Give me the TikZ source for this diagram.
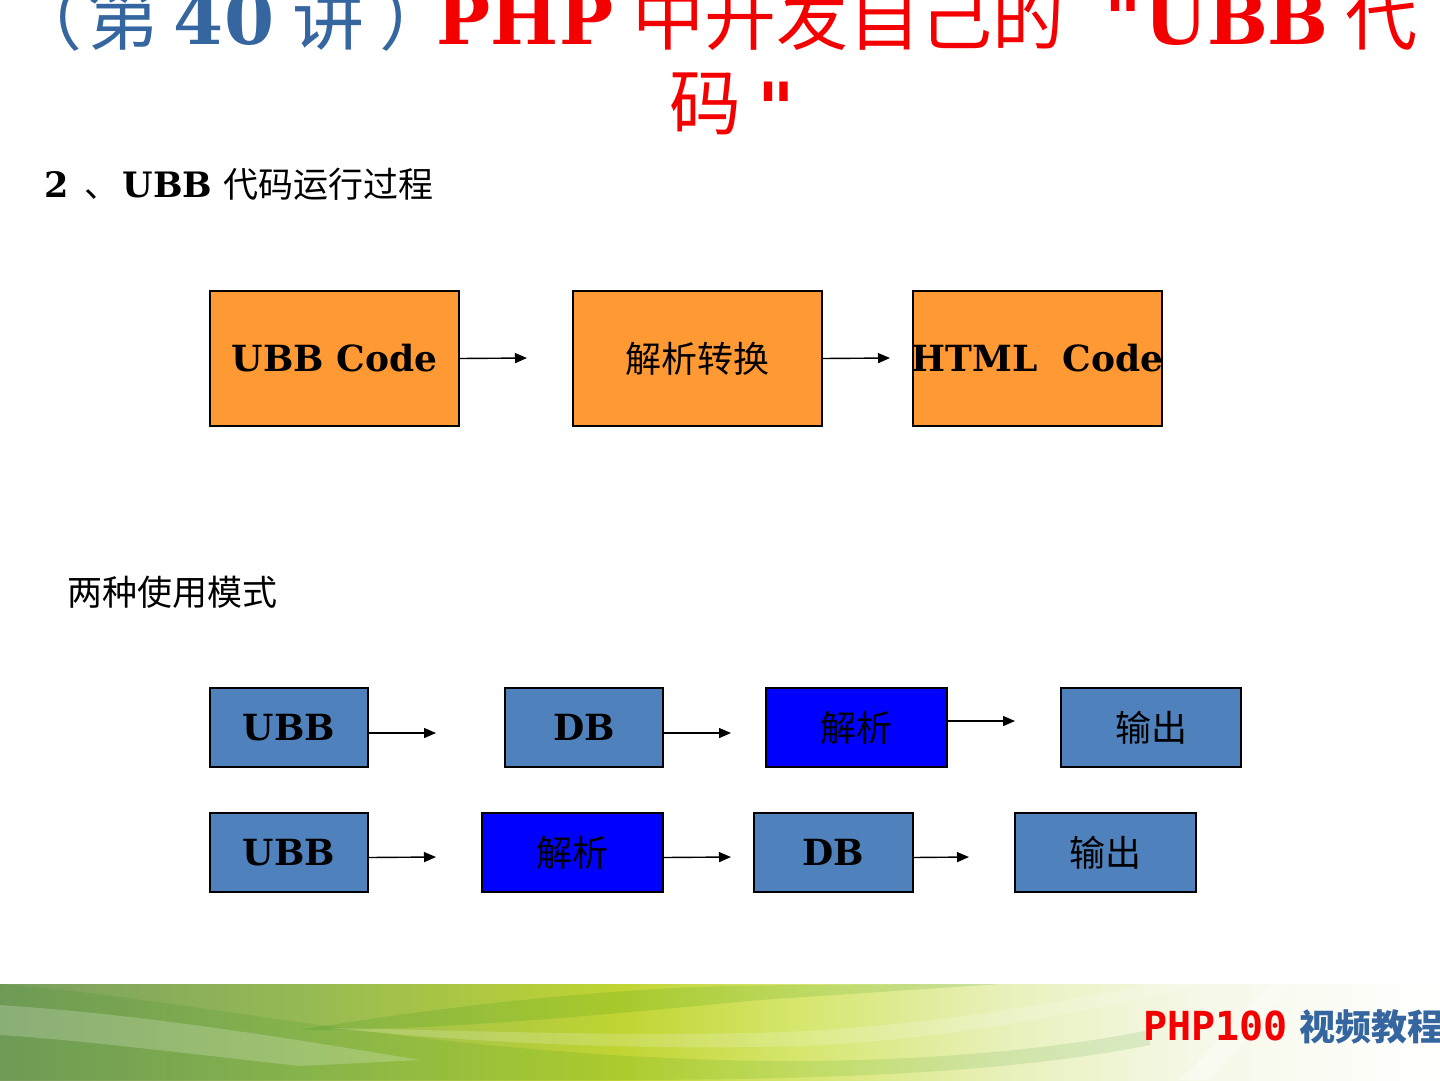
\documentclass[tikz,border=0pt]{standalone}
\usepackage{fontspec}
\setmainfont{DejaVu Serif}
\newfontfamily\qfont[Ligatures=TeXOff]{DejaVu Serif}
\newfontfamily\cjk{Noto Sans CJK SC}
\newfontfamily\monob{DejaVu Sans Mono}
\usetikzlibrary{arrows.meta}
\definecolor{orangebox}{RGB}{255,153,51}
\definecolor{steel}{RGB}{79,129,189}
\definecolor{pureblue}{RGB}{0,0,255}
\definecolor{titleblue}{RGB}{54,102,160}
\definecolor{titlered}{RGB}{245,0,0}
\definecolor{g1}{RGB}{122,158,95}
\definecolor{g2}{RGB}{150,185,85}
\definecolor{g3}{RGB}{192,212,50}
\definecolor{g4}{RGB}{215,230,110}
\definecolor{g5}{RGB}{232,240,185}
\definecolor{g6}{RGB}{246,248,232}
\tikzset{
  boxbase/.style={draw=black,line width=1.8pt,inner sep=0pt,outer sep=0pt,anchor=north west,text=black},
  obox/.style={boxbase,fill=orangebox,minimum width=249pt,minimum height=135pt},
  sbox/.style={boxbase,fill=steel,minimum height=79pt},
  bluebox/.style={boxbase,fill=pureblue,minimum height=79pt},
  conn/.style={line width=1.4pt,-{Triangle[length=12pt,width=10pt]}},
  latb/.style={font=\bfseries\fontsize{36}{43}\selectfont},
  cjkt/.style={font=\cjk\fontsize{36}{43}\selectfont},
  tpiece/.style={inner sep=0pt,outer sep=0pt,anchor=base},
  tblue/.style={tpiece,text=titleblue},
  tred/.style={tpiece,text=titlered},
  tcjk/.style={font=\cjk\fontsize{72}{86}\selectfont},
  tlat/.style={font=\bfseries\fontsize{72}{86}\selectfont},
  tquote/.style={font=\qfont\bfseries\fontsize{72}{86}\selectfont},
}
\begin{document}
\begin{tikzpicture}[x=1pt,y=-1pt]
\useasboundingbox (0,0) rectangle (1440,1080);
\fill[white] (0,0) rectangle (1440,1080);
% bottom band
\fill[left color=g1,right color=g2] (0,984) rectangle (300,1080);
\fill[left color=g2,right color=g3] (299.5,984) rectangle (620,1080);
\fill[left color=g3,right color=g4] (619.5,984) rectangle (800,1080);
\fill[left color=g4,right color=g5] (799.5,984) rectangle (1000,1080);
\fill[left color=g5,right color=g6] (999.5,984) rectangle (1200,1080);
\fill[left color=g6,right color=white] (1199.5,984) rectangle (1440,1080);
% swooshes
\fill[black!50!green,opacity=0.10] (0,984) .. controls (200,1000) and (400,1050) .. (720,1060) .. controls (900,1065) and (1050,1050) .. (1150,1030) -- (1150,1045) .. controls (1000,1075) and (800,1080) .. (600,1080) -- (0,1080) -- cycle;
\fill[white,opacity=0.20] (0,1005) .. controls (150,1015) and (300,1040) .. (420,1060) -- (300,1066) .. controls (200,1055) and (80,1040) .. (0,1035) -- cycle;
\fill[black!50!green,opacity=0.12] (300,1030) .. controls (450,1005) and (600,990) .. (720,986) .. controls (850,984) and (950,984) .. (1000,984) -- (760,1000) .. controls (600,1015) and (450,1030) .. (300,1030) -- cycle;
\fill[white,opacity=0.18] (330,1028) .. controls (500,1045) and (650,1050) .. (800,1046) .. controls (950,1040) and (1100,1010) .. (1200,984) -- (1150,984) .. controls (1050,1005) and (900,1030) .. (750,1033) .. controls (600,1036) and (450,1030) .. (330,1028) -- cycle;
\fill[white,opacity=0.35] (1180,1080) .. controls (1220,1040) and (1250,1005) .. (1270,984) -- (1290,984) .. controls (1270,1010) and (1240,1045) .. (1210,1080) -- cycle;

% title line 1
\node[tblue,tcjk,anchor=base west] (tlp) at (10,44) {（};
\node[tblue,tcjk] (tdi) at (123.5,44) {第};
\node[tblue,tlat] (tforty) at (224,44) {40};
\node[tblue,tcjk] (tjiang) at (328,44) {讲};
\node[tblue,tcjk,anchor=base west] (trp) at (379,44) {）};
\node[tred,tlat] (tphp) at (525,44) {PHP};
\node[tred,tcjk] (tmid) at (848,44) {中开发自己的};
\node[tred,tquote] (tq1) at (1123.5,44) {"};
\node[tred,tlat] (tubb) at (1236.5,44) {UBB};
\node[tred,tcjk] (tdai) at (1381,44) {代};
% title line 2
\node[tred,tcjk] (tma) at (705,129) {码};
\node[tred,tquote] (tq2) at (776,134) {"};

% headings
\node[anchor=base west,inner sep=0pt] (head1) at (44,197) {\fontsize{35}{42}\selectfont\textbf{2}\hspace{16pt}{\cjk 、}\hspace{3pt}\textbf{UBB} {\cjk 代码运行过程}};
\node[anchor=west,inner sep=0pt] (head2) at (67,592) {\cjk\fontsize{35}{42}\selectfont 两种使用模式};

% top flow
\node[obox,latb] (ubbcode) at (210,291) {UBB Code};
\node[obox,cjkt] (convert) at (573,291) {解析转换};
\node[obox,latb] (htmlcode) at (913,291) {\makebox[249pt][c]{HTML\ \ Code}};
\coordinate (t1) at (527,358);
\coordinate (t2) at (890,358);
\draw[conn] (ubbcode.east) -- (t1);
\draw[conn] (convert.east) -- (t2);

% row 1
\node[sbox,latb,minimum width=158pt] (raubb) at (210,688) {UBB};
\node[sbox,latb,minimum width=158pt] (radb) at (505,688) {DB};
\node[bluebox,cjkt,minimum width=181pt] (raparse) at (766,688) {解析};
\node[sbox,cjkt,minimum width=180pt] (raout) at (1061,688) {输出};
\coordinate (a1) at (436,733);
\coordinate (a2) at (731,733);
\coordinate (a3) at (1015,721);
\draw[conn] ([yshift=-5.5pt]raubb.east) -- (a1);
\draw[conn] ([yshift=-5.5pt]radb.east) -- (a2);
\draw[conn] ([yshift=6.5pt]raparse.east) -- (a3);

% row 2
\node[sbox,latb,minimum width=158pt] (rbubb) at (210,813) {UBB};
\node[bluebox,cjkt,minimum width=181pt] (rbparse) at (482,813) {解析};
\node[sbox,latb,minimum width=159pt] (rbdb) at (754,813) {DB};
\node[sbox,cjkt,minimum width=181pt] (rbout) at (1015,813) {输出};
\coordinate (b1) at (436,857);
\coordinate (b2) at (731,857);
\coordinate (b3) at (969,857);
\draw[conn] ([yshift=-5pt]rbubb.east) -- (b1);
\draw[conn] ([yshift=-5pt]rbparse.east) -- (b2);
\draw[conn] ([yshift=-5pt]rbdb.east) -- (b3);

% footer brand
\node[anchor=base west,inner sep=0pt] (brand) at (1143,1040) {\monob\bfseries\fontsize{40}{48}\selectfont\color{titlered}PHP100\hspace{12pt}{\cjk\bfseries\fontsize{36}{43}\selectfont\color{titleblue}视频教程}};
\end{tikzpicture}
\end{document}
